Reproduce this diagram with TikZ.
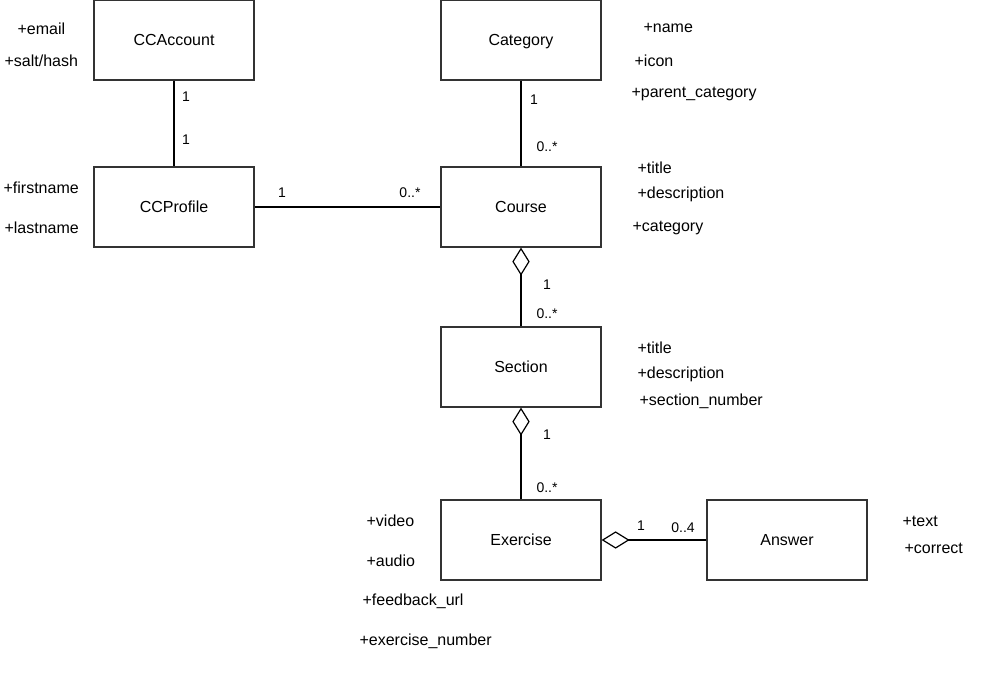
\documentclass[tikz,border=0pt]{standalone}
\usepackage{fontspec}
\setmainfont{Liberation Sans}
\usetikzlibrary{arrows.meta,positioning}

\begin{document}
\begin{tikzpicture}[x=0.75pt, y=-0.75pt, line width=0.9pt,
  clase/.style={rectangle, draw=black!80, minimum width=120pt, minimum height=60pt, text height=1.6ex, text depth=0.1ex, font=\fontsize{12}{14}\selectfont},
  attr/.style={anchor=west, inner sep=0pt, font=\fontsize{12}{14}\selectfont},
  mult/.style={inner sep=0pt, font=\fontsize{10.5}{12}\selectfont},
  agreg/.style={-{Diamond[open, length=21pt, width=13pt]}}]
  \useasboundingbox (0,0) rectangle (1006,685);

  % Clases
  \node[clase] (ccaccount) at (174,40) {CCAccount};
  \node[clase] (category) at (521,40) {Category};
  \node[clase] (ccprofile) at (174,207) {CCProfile};
  \node[clase] (course) at (521,207) {Course};
  \node[clase] (section) at (521,367) {Section};
  \node[clase] (exercise) at (521,540) {Exercise};
  \node[clase] (answer) at (787,540) {Answer};

  % Atributos
  \node[attr] (acc1) at (17,29) {+email};
  \node[attr] (acc2) at (4,61) {+salt/hash};
  \node[attr] (prf1) at (3,188) {+firstname};
  \node[attr] (prf2) at (4,228) {+lastname};
  \node[attr] (cat1) at (643,28) {+name};
  \node[attr] (cat2) at (634,61) {+icon};
  \node[attr] (cat3) at (631,94) {+parent\_category};
  \node[attr] (crs1) at (637,168) {+title};
  \node[attr] (crs2) at (637,194) {+description};
  \node[attr] (crs3) at (632,228) {+category};
  \node[attr] (sec1) at (637,348) {+title};
  \node[attr] (sec2) at (637,374) {+description};
  \node[attr] (sec3) at (639,401) {+section\_number};
  \node[attr] (exe1) at (366,521) {+video};
  \node[attr] (exe2) at (366,561) {+audio};
  \node[attr] (exe3) at (362,601) {+feedback\_url};
  \node[attr] (exe4) at (359,641) {+exercise\_number};
  \node[attr] (ans1) at (902,521) {+text};
  \node[attr] (ans2) at (904,548) {+correct};

  % Relaciones
  \draw (ccaccount) -- (ccprofile);
  \draw (ccprofile) -- (course);
  \draw (category) -- (course);
  \draw[agreg] (section) -- (course);
  \draw[agreg] (exercise) -- (section);
  \draw[agreg] (answer) -- (exercise);

  % Multiplicidades
  \node[mult] (m1) at (186,97) {1};
  \node[mult] (m2) at (186,140) {1};
  \node[mult] (m3) at (282,193) {1};
  \node[mult] (m4) at (410,193) {0..*};
  \node[mult] (m5) at (534,100) {1};
  \node[mult] (m6) at (547,147) {0..*};
  \node[mult] (m7) at (547,285) {1};
  \node[mult] (m8) at (547,314) {0..*};
  \node[mult] (m9) at (547,435) {1};
  \node[mult] (m10) at (547,488) {0..*};
  \node[mult] (m11) at (641,526) {1};
  \node[mult] (m12) at (683,528) {0..4};
\end{tikzpicture}
\end{document}
